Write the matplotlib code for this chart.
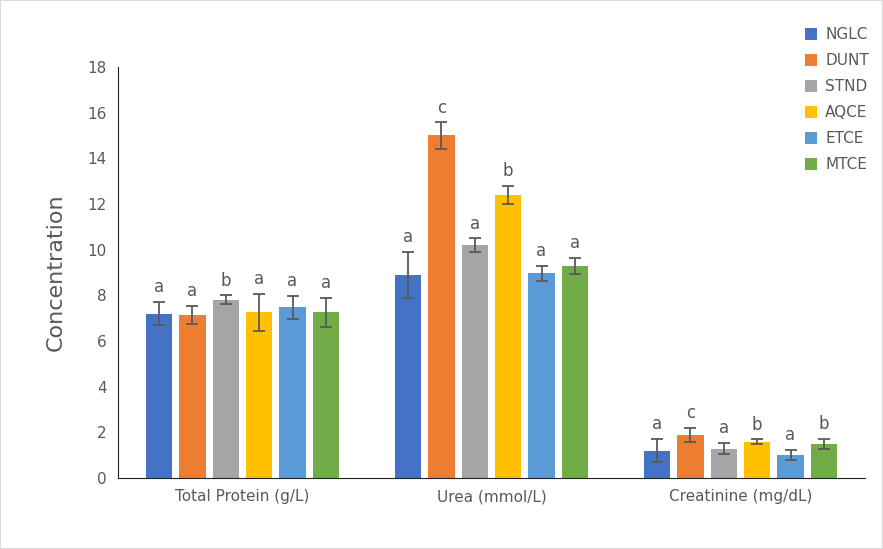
import numpy as np
from matplotlib import pyplot as plt

categories = ["Total Protein (g/L)", "Urea (mmol/L)", "Creatinine (mg/dL)"]
groups = ["NGLC", "DUNT", "STND", "AQCE", "ETCE", "MTCE"]
colors = ["#4472C4", "#ED7D31", "#A5A5A5", "#FFC000", "#5B9BD5", "#70AD47"]

means = {
    "NGLC": [7.2, 8.9, 1.2],
    "DUNT": [7.15, 15.0, 1.88],
    "STND": [7.8, 10.2, 1.28],
    "AQCE": [7.25, 12.4, 1.58],
    "ETCE": [7.47, 8.97, 1.0],
    "MTCE": [7.25, 9.3, 1.49],
}
errors = {
    "NGLC": [0.5, 1.0, 0.5],
    "DUNT": [0.4, 0.57, 0.32],
    "STND": [0.2, 0.3, 0.25],
    "AQCE": [0.8, 0.4, 0.11],
    "ETCE": [0.5, 0.33, 0.22],
    "MTCE": [0.65, 0.35, 0.23],
}
letters = {
    "NGLC": ["a", "a", "a"],
    "DUNT": ["a", "c", "c"],
    "STND": ["b", "a", "a"],
    "AQCE": ["a", "b", "b"],
    "ETCE": ["a", "a", "a"],
    "MTCE": ["a", "a", "b"],
}

txt = "#595959"
fig = plt.figure(figsize=(8.83, 5.49), dpi=100)
ax = fig.add_axes([0.1336, 0.1293, 0.846, 0.7487])

x = np.arange(len(categories))
step = 0.134
width = 0.106
for i, g in enumerate(groups):
    pos = x + (i - 2.5) * step
    ax.bar(pos, means[g], width, color=colors[i], label=g, zorder=2)
    ax.errorbar(pos, means[g], yerr=errors[g], fmt="none", ecolor="#595959",
                elinewidth=1.3, capsize=4, capthick=1.3, zorder=3)
    for p, m, e, l in zip(pos, means[g], errors[g], letters[g]):
        ax.text(p, m + e + 0.25, l, ha="center", va="bottom", fontsize=12, color=txt)

ax.set_xlim(-0.5, 2.5)
ax.set_ylim(0, 18)
ax.set_yticks(range(0, 19, 2))
ax.set_xticks(x)
ax.set_xticklabels(categories)
ax.tick_params(length=0, labelsize=11, colors=txt, pad=8)
ax.set_ylabel("Concentration", fontsize=16, color=txt, labelpad=16)
for s in ["top", "right"]:
    ax.spines[s].set_visible(False)
ax.spines["bottom"].set_color("#222222")
ax.spines["left"].set_color("#222222")
ax.spines["left"].set_linewidth(0.8)

leg = fig.legend(loc="upper left", bbox_to_anchor=(0.905, 0.962), frameon=False,
                 fontsize=11, handlelength=0.8, handleheight=0.8, handletextpad=0.5,
                 labelspacing=0.72, borderaxespad=0)
for t in leg.get_texts():
    t.set_color(txt)

fig.patches.append(plt.Rectangle((0, 0), 1, 1, transform=fig.transFigure, fill=False,
                                 edgecolor="#d9d9d9", linewidth=1.5))
fig.savefig("out.png", dpi=100)
